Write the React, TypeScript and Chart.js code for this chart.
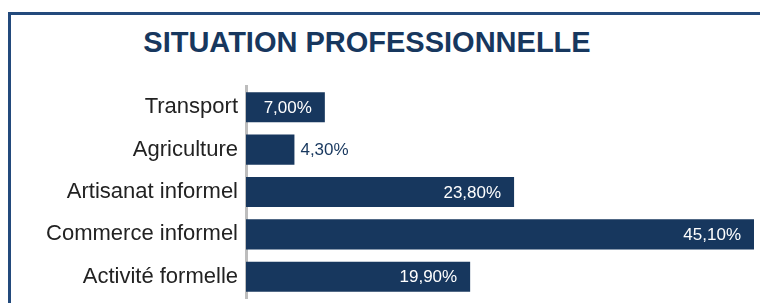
import React, { useEffect, useRef } from "react";
import { Chart, registerables } from "chart.js";

Chart.register(...registerables);

const title = "SITUATION PROFESSIONNELLE";
const categories = [
  "Transport",
  "Agriculture",
  "Artisanat informel",
  "Commerce informel",
  "Activité formelle",
];
const values = [7.0, 4.3, 23.8, 45.1, 19.9];
const valueLabels = ["7,00%", "4,30%", "23,80%", "45,10%", "19,90%"];

const NAVY = "#17375e";
const FRAME = "#234a7c";
const FONT = "'Liberation Sans', Arial, Helvetica, sans-serif";

const valueLabelPlugin = {
  id: "valueLabels",
  afterDatasetsDraw(chart: any) {
    const { ctx } = chart;
    const meta = chart.getDatasetMeta(0);
    ctx.save();
    ctx.font = `17px ${FONT}`;
    ctx.textBaseline = "middle";
    meta.data.forEach((bar: any, i: number) => {
      const label = valueLabels[i];
      const w = ctx.measureText(label).width;
      const barW = bar.x - bar.base;
      if (w + 20 <= barW) {
        ctx.fillStyle = "#ffffff";
        ctx.textAlign = "right";
        ctx.fillText(label, bar.x - 13, bar.y + 1);
      } else {
        ctx.fillStyle = NAVY;
        ctx.textAlign = "left";
        ctx.fillText(label, bar.x + 6, bar.y + 1);
      }
    });
    ctx.restore();
  },
};

export default function App() {
  const canvasRef = useRef<HTMLCanvasElement | null>(null);

  useEffect(() => {
    const canvas = canvasRef.current;
    if (!canvas) return;
    const chart = new Chart(canvas, {
      type: "bar",
      data: {
        labels: categories,
        datasets: [
          {
            data: values,
            backgroundColor: NAVY,
            borderWidth: 0,
            barPercentage: 0.71,
            categoryPercentage: 1,
          },
        ],
      },
      options: {
        indexAxis: "y",
        responsive: false,
        animation: false,
        layout: { padding: { top: 86, bottom: 5, left: 0, right: 6 } },
        plugins: {
          legend: { display: false },
          title: { display: false },
          tooltip: { enabled: false },
        },
        scales: {
          x: {
            display: false,
            min: 0,
            max: 45.1,
          },
          y: {
            afterFit: (scale: any) => {
              scale.width = 246;
              scale.paddingTop = 0;
              scale.paddingBottom = 0;
            },
            grid: { display: false, drawTicks: false },
            border: { display: true, color: "#bdbdbd", width: 3 },
            ticks: {
              padding: 8,
              color: "#222222",
              font: { family: FONT, size: 22 },
            },
          },
        },
      },
      plugins: [valueLabelPlugin],
    });
    return () => chart.destroy();
  }, []);

  return (
    <div
      style={{
        position: "fixed",
        left: 0,
        top: 0,
        width: 760,
        height: 303,
        background: "#ffffff",
        overflow: "hidden",
      }}
    >
      <div
        style={{
          position: "absolute",
          left: 8,
          top: 12,
          width: 752,
          height: 3,
          background: FRAME,
        }}
      />
      <div
        style={{
          position: "absolute",
          left: 8,
          top: 12,
          width: 3,
          height: 291,
          background: FRAME,
        }}
      />
      <div
        style={{
          position: "absolute",
          left: 0,
          top: 28,
          width: 734,
          textAlign: "center",
          fontFamily: FONT,
          fontWeight: "bold",
          fontSize: 29,
          lineHeight: "29px",
          color: NAVY,
          whiteSpace: "nowrap",
        }}
      >
        {title}
      </div>
      <canvas
        ref={canvasRef}
        width={760}
        height={303}
        style={{ position: "absolute", left: 0, top: 0, width: 760, height: 303 }}
      />
    </div>
  );
}
